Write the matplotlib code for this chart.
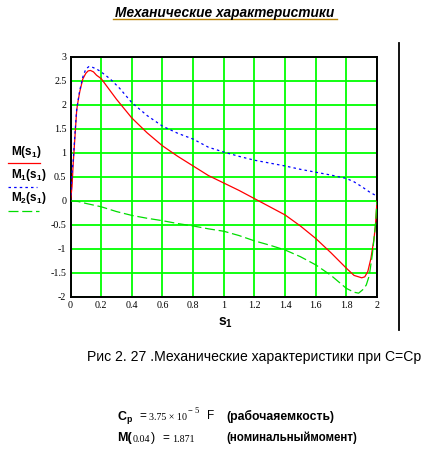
import numpy as np
import matplotlib.pyplot as plt
from matplotlib.lines import Line2D

plt.rcParams['mathtext.fontset'] = 'custom'
plt.rcParams['mathtext.bf'] = 'Liberation Sans:bold'
plt.rcParams['mathtext.rm'] = 'Liberation Sans'
plt.rcParams['axes.unicode_minus'] = False

# M(s1) - red
s_m = [0, 0.005, 0.01, 0.018, 0.029, 0.04, 0.045, 0.06, 0.08, 0.1, 0.115, 0.13,
       0.15, 0.17, 0.2, 0.3, 0.4, 0.5, 0.6, 0.7, 0.8, 0.9, 1.0, 1.1, 1.2, 1.3,
       1.4, 1.5, 1.6, 1.7, 1.8, 1.85, 1.9, 1.92, 1.94, 1.96, 1.98, 1.99, 2.0]
m = [0, 0.15, 0.3, 0.8, 1.33, 1.87, 2.0, 2.27, 2.54, 2.66, 2.71, 2.72,
     2.69, 2.62, 2.55, 2.12, 1.73, 1.42, 1.15, 0.93, 0.73, 0.53, 0.375, 0.22,
     0.05, -0.12, -0.29, -0.52, -0.78, -1.08, -1.4, -1.55, -1.6, -1.58, -1.47,
     -1.2, -0.8, -0.5, 0]

# M1(s1) - blue
s_m1 = [0, 0.005, 0.01, 0.018, 0.029, 0.04, 0.06, 0.08, 0.1, 0.12, 0.14, 0.17,
        0.2, 0.26, 0.32, 0.4, 0.5, 0.6, 0.7, 0.8, 0.9, 1.0, 1.1, 1.2, 1.3, 1.4,
        1.5, 1.6, 1.7, 1.8, 1.85, 1.9, 1.95, 2.0]
m1 = [0, 0.3, 0.6, 0.85, 1.4, 1.9, 2.3, 2.58, 2.75, 2.8, 2.79, 2.75,
      2.69, 2.54, 2.35, 2.05, 1.78, 1.56, 1.41, 1.29, 1.12, 1.02, 0.93, 0.85,
      0.79, 0.73, 0.66, 0.6, 0.54, 0.47, 0.4, 0.3, 0.19, 0.1]

# M2(s1) - green
s_m2 = [0, 0.05, 0.1, 0.2, 0.3, 0.4, 0.5, 0.6, 0.7, 0.8, 0.9, 1.0, 1.1, 1.2,
        1.3, 1.4, 1.5, 1.6, 1.7, 1.8, 1.85, 1.88, 1.91, 1.93, 1.95, 1.97, 1.99, 2.0]
m2 = [0, -0.01, -0.05, -0.12, -0.22, -0.3, -0.36, -0.41, -0.47, -0.52, -0.58,
      -0.63, -0.72, -0.83, -0.92, -1.02, -1.16, -1.33, -1.55, -1.82, -1.9,
      -1.92, -1.84, -1.75, -1.55, -1.1, -0.5, 0]

x_ticks = [0, 0.2, 0.4, 0.6, 0.8, 1, 1.2, 1.4, 1.6, 1.8, 2]
x_labels = ['0', '0.2', '0.4', '0.6', '0.8', '1', '1.2', '1.4', '1.6', '1.8', '2']
y_ticks = [-2, -1.5, -1, -0.5, 0, 0.5, 1, 1.5, 2, 2.5, 3]
y_labels = ['-2', '-1.5', '-1', '-0.5', '0', '0.5', '1', '1.5', '2', '2.5', '3']

W, H = 429, 458
fig = plt.figure(figsize=(W / 100, H / 100), dpi=100)


def px(x, y):
    return x / W, 1 - y / H


ax = fig.add_axes([70.5 / W, 1 - 297 / H, 306.5 / W, 240 / H])
ax.plot(s_m, m, color='red', lw=0.9, zorder=3)
ax.plot(s_m1, m1, color='blue', lw=0.9, linestyle=(0, (2, 2.5)), zorder=3)
ax.plot(s_m2, m2, color='#00dd00', lw=0.9, linestyle=(0, (8, 3)), zorder=3)

ax.set_xlim(0, 2)
ax.set_ylim(-2, 3)
ax.set_xticks(x_ticks)
ax.set_xticklabels(x_labels, family='Liberation Serif', fontsize=7.2)
ax.set_yticks(y_ticks)
ax.set_yticklabels(y_labels, family='Liberation Serif', fontsize=7.2)
ax.tick_params(length=0, pad=3)
ax.grid(True, color='#00ff00', lw=1.3)
ax.set_axisbelow(True)
for sp in ax.spines.values():
    sp.set_linewidth(1.4)
    sp.set_color('black')

# x label
fig.text(*px(218, 323), r'$\mathbf{s_1}$', fontsize=10, va='center', ha='left')

# y-axis legend labels (Mathcad style)
fig.text(*px(11, 152), r'$\mathbf{M(s_1)}$', fontsize=8.5, va='center')
fig.text(*px(11, 175), r'$\mathbf{M_1(s_1)}$', fontsize=8.5, va='center')
fig.text(*px(11, 198), r'$\mathbf{M_2(s_1)}$', fontsize=8.5, va='center')
for yy, col, ls, x1 in [(163, 'red', '-', 40), (187, 'blue', (0, (2, 2.5)), 37),
                        (211, '#00dd00', (0, (8, 3)), 39)]:
    fig.add_artist(Line2D([8 / W, x1 / W], [1 - yy / H, 1 - yy / H],
                          color=col, lw=0.9, linestyle=ls))

# right separator line
fig.add_artist(Line2D([399 / W, 399 / W], [1 - 43 / H, 1 - 330 / H],
                      color='black', lw=1.3))

# title
fig.text(*px(225, 13), 'Механические характеристики', fontsize=9.9,
         fontweight='bold', style='italic', family='Liberation Sans',
         ha='center', va='center')
fig.add_artist(Line2D([113 / W, 337 / W], [1 - 18.5 / H, 1 - 18.5 / H],
                      color='#b88000', lw=1.0))

# caption
fig.text(*px(87, 357), 'Рис 2. 27 .Механические характеристики при С=Ср',
         fontsize=10.1, family='Liberation Sans', ha='left', va='center')

# bottom formulas
fig.text(*px(117, 417), r'$\mathbf{C_p}$', fontsize=9, va='center')
fig.text(*px(139, 416), '=', fontsize=8.5, family='Liberation Sans', va='center')
fig.text(*px(149, 417), '3.75 × 10', fontsize=7.2, family='Liberation Serif',
         va='center')
fig.text(*px(188, 411), '− 5', fontsize=6.2, family='Liberation Serif',
         va='center')
fig.text(*px(207, 416), 'F', fontsize=8.5, family='Liberation Sans', va='center')
fig.text(*px(226, 416), '(рабочаяемкость)', fontsize=8.8, fontweight='bold',
         family='Liberation Sans', va='center')

fig.text(*px(117, 438), 'M(', fontsize=9, fontweight='bold',
         family='Liberation Sans', va='center')
fig.text(*px(133, 439), '0.04', fontsize=7.2, family='Liberation Serif',
         va='center')
fig.text(*px(151, 438), ')', fontsize=9, family='Liberation Sans',
         va='center')
fig.text(*px(162, 438), '=', fontsize=8.5, family='Liberation Sans', va='center')
fig.text(*px(172, 439), '1.871', fontsize=7.2, family='Liberation Serif',
         va='center')
fig.text(*px(226, 438), '(номинальныймомент)', fontsize=8.3, fontweight='bold',
         family='Liberation Sans', va='center')

fig.savefig('out.png', dpi=100)
